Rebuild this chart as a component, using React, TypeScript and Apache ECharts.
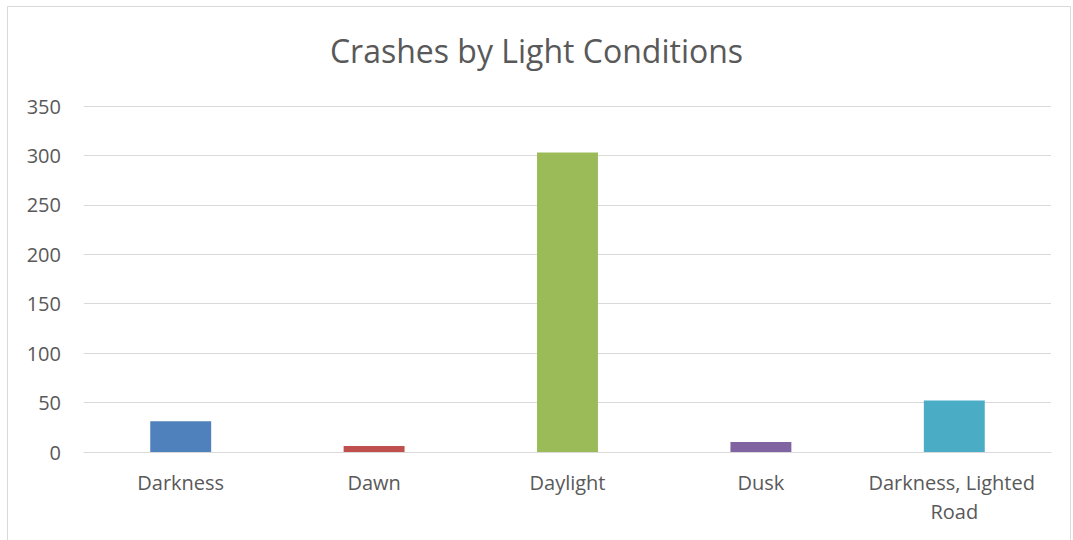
import React, { useEffect, useRef } from "react";
import * as echarts from "echarts";

const categories = ["Darkness", "Dawn", "Daylight", "Dusk", "Darkness, Lighted Road"];
const values = [31, 6, 303, 10, 52];
const barColors = ["#4F81BD", "#C0504D", "#9BBB59", "#8064A2", "#4BACC6"];
const titleText = "Crashes by Light Conditions";

export default function App() {
  const ref = useRef<HTMLDivElement>(null);
  useEffect(() => {
    if (!ref.current) return;
    const chart = echarts.init(ref.current, null, { renderer: "svg" });
    const font = "'Open Sans', 'Noto Sans', sans-serif";
    chart.setOption({
      animation: false,
      backgroundColor: "#ffffff",
      title: {
        text: titleText,
        left: "center",
        top: 29,
        textStyle: { fontFamily: font, fontSize: 32, fontWeight: "normal", color: "#595959" },
      },
      graphic: [
        {
          type: "rect",
          shape: { x: 7.5, y: 6.5, width: 1063, height: 540 },
          style: { fill: "none", stroke: "#d9d9d9", lineWidth: 1 },
          silent: true,
        },
      ],
      grid: { left: 84, right: 22, top: 106, bottom: 88 },
      xAxis: {
        type: "category",
        data: categories,
        axisLine: { show: true, lineStyle: { color: "#d9d9d9", width: 1 } },
        axisTick: { show: false },
        axisLabel: {
          color: "#595959",
          fontFamily: font,
          fontSize: 20,
          margin: 16,
          lineHeight: 29,
          width: 190,
          overflow: "break",
          interval: 0,
        },
      },
      yAxis: {
        type: "value",
        min: 0,
        max: 350,
        interval: 50,
        axisLine: { show: false },
        axisTick: { show: false },
        splitLine: { lineStyle: { color: "#d9d9d9", width: 1 } },
        axisLabel: { color: "#595959", fontFamily: font, fontSize: 20, margin: 23 },
      },
      series: [
        {
          type: "bar",
          barWidth: "31.5%",
          data: values.map((v, i) => ({ value: v, itemStyle: { color: barColors[i] } })),
        },
      ],
    });
    return () => chart.dispose();
  }, []);
  return (
    <div
      ref={ref}
      style={{ position: "fixed", left: 0, top: 0, width: 1073, height: 540 }}
    />
  );
}
